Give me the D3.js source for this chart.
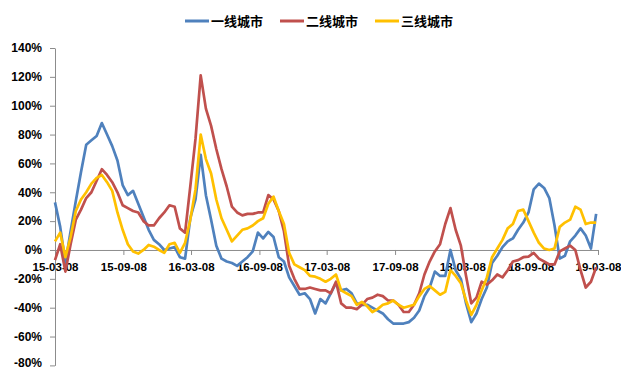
<!DOCTYPE html>
<html>
<head>
<meta charset="utf-8">
<script src="https://cdn.jsdelivr.net/npm/d3@7"></script>
<style>
  html, body { margin: 0; padding: 0; background: #fff; }
  svg { display: block; }
  .axis text { font-family: "Liberation Sans", Arial, sans-serif; font-weight: bold; font-size: 12px; fill: #000; }
  .axis.x-axis text { font-size: 11.5px; }
  .legend text { font-family: "Noto Sans CJK SC", sans-serif; font-weight: bold; font-size: 13px; fill: #000; }
</style>
</head>
<body>
<svg id="chart" width="621" height="371"></svg>
<script>
// Year-on-year change (%) of three city tiers, sampled every two weeks from 2015-03-08
const startDate = "2015-03-08";
const stepDays = 14;

const tier1 = [33, 16, -9, 13, 34, 54, 73, 76, 79, 88, 80, 72, 62, 45, 38, 41, 32, 23, 14, 7,
  4, 0, 1, 2, -5, -6, 22, 35, 66, 38, 21, 3, -6, -8, -9, -11, -8, -5, -1, 12,
  8, 12.5, 9, -5, -8, -19, -25, -31, -30, -34, -44, -34, -37, -30, -23, -28, -27, -30, -37, -38,
  -38, -40, -42, -44, -48, -51, -51, -51, -50, -47, -42, -32, -26, -15, -18, -18, 0, -14, -20, -37,
  -50, -44, -34, -26, -9, -4, 2, 6, 8, 14, 19, 26, 42, 46, 43, 36, 17, -6, -4, 6,
  10, 15, 10, 1, 25];

const tier2 = [-7, 4, -15, 4, 21, 28, 36, 40, 48, 56, 52, 47, 40, 31, 29, 27, 26, 20, 17, 17,
  22, 26, 31, 30, 15, 12, 44, 77, 121, 98, 86, 70, 56, 44, 30, 26, 24, 25, 25, 26,
  26, 38, 35, 27, 13, -11, -20, -27, -27, -26, -27, -28, -28, -30, -22, -37, -40, -40, -41, -38,
  -34, -33, -31, -32, -35, -35, -38, -43, -43, -38, -30, -17, -8, -1, 4, 18, 29, 14, 3, -18,
  -37, -33, -22, -24, -21, -17, -19, -14, -8, -7, -5, -4.6, -2, -6, -8, -10, -10, -1, 1, 3,
  0, -14, -26, -22, -12];

const tier3 = [6, 12, -5, 9, 27, 35, 40, 46, 50, 52, 47, 41, 26, 14, 4, -1, -2.5, 0, 3.5, 2.3,
  0, -2, 4, 5, -2, 5, 21, 42, 80, 63, 53, 35, 22, 14, 6, 10, 14, 15, 17, 20,
  22, 32, 37, 27, 18, -2, -10, -12, -14, -18, -18.5, -20, -22, -20, -17, -28, -30, -32, -38, -36,
  -39, -43, -41, -38, -37, -35, -38, -40, -39, -38, -32, -27, -25, -28, -31, -29, -14, -18, -23, -35,
  -45, -38, -28, -19, -5, 1, 7, 15, 18, 27, 28, 20, 12, 5, 1, 0, 1, 16, 19, 21,
  30, 28, 18, 19, 19];

const seriesNames = ["一线城市", "二线城市", "三线城市"];
const seriesColors = ["#4F81BD", "#C0504D", "#FFC000"];
const tickLabels = ["15-03-08", "15-09-08", "16-03-08", "16-09-08", "17-03-08",
  "17-09-08", "18-03-08", "18-09-08", "19-03-08"];
const yTicks = [-80, -60, -40, -20, 0, 20, 40, 60, 80, 100, 120, 140];

const parseIso = d3.timeParse("%Y-%m-%d");
const parseTick = d3.timeParse("%y-%m-%d");
const fmtTick = d3.timeFormat("%y-%m-%d");
const t0 = parseIso(startDate);
const dates = tier1.map((_, i) => d3.timeDay.offset(t0, i * stepDays));
const tickDates = tickLabels.map(parseTick);

const svg = d3.select("#chart");

const x = d3.scaleTime()
  .domain([tickDates[0], tickDates[tickDates.length - 1]])
  .range([55, 598]);
const y = d3.scaleLinear().domain([-80, 140]).range([365.4, 48]);

// Y axis on the left
const yAxis = svg.append("g")
  .attr("class", "axis y-axis")
  .attr("transform", "translate(55,0)")
  .call(d3.axisLeft(y).tickValues(yTicks).tickFormat(d => d + "%").tickSize(5).tickSizeOuter(0).tickPadding(8));
yAxis.select(".domain").attr("stroke", "#8c8c8c");
yAxis.selectAll(".tick line").attr("stroke", "#8c8c8c");
// keep the bottom label inside the canvas
yAxis.selectAll(".tick text").filter(d => d === -80).attr("dy", "0.1em");

// X axis along the zero line
const xAxis = svg.append("g")
  .attr("class", "axis x-axis")
  .attr("transform", `translate(0,${y(0)})`)
  .call(d3.axisBottom(x).tickValues(tickDates).tickFormat(fmtTick).tickSize(5).tickSizeOuter(0).tickPadding(8));
xAxis.select(".domain").attr("stroke", "#8c8c8c");
xAxis.selectAll(".tick line").attr("stroke", "#8c8c8c");

// Series lines
const line = d3.line()
  .x((d, i) => x(dates[i]))
  .y(d => y(d));

[tier1, tier2, tier3].forEach((vals, s) => {
  svg.append("path")
    .datum(vals)
    .attr("fill", "none")
    .attr("stroke", seriesColors[s])
    .attr("stroke-width", 2.7)
    .attr("stroke-linejoin", "round")
    .attr("d", line);
});

// Legend
const legendX = [185, 280, 375];
const legend = svg.append("g").attr("class", "legend");
seriesNames.forEach((name, s) => {
  legend.append("line")
    .attr("x1", legendX[s]).attr("x2", legendX[s] + 24)
    .attr("y1", 21).attr("y2", 21)
    .attr("stroke", seriesColors[s]).attr("stroke-width", 3);
  legend.append("text")
    .attr("x", legendX[s] + 26).attr("y", 21)
    .attr("dy", "0.36em")
    .text(name);
});
</script>
</body>
</html>
